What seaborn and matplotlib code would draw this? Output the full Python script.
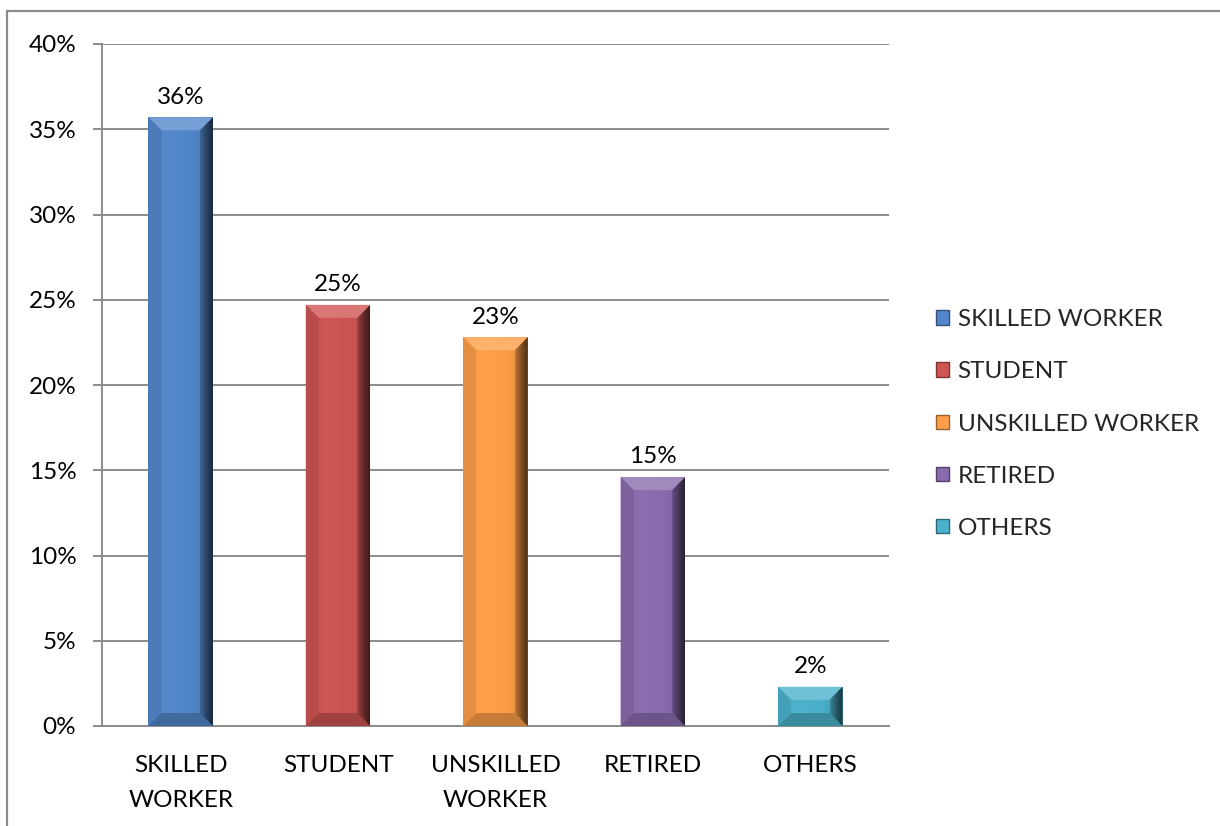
import numpy as np
import matplotlib
matplotlib.use("Agg")
import matplotlib.pyplot as plt
import matplotlib.colors as mcolors
from matplotlib.patches import Polygon, Patch, Rectangle
from matplotlib.ticker import FixedLocator, PercentFormatter
import seaborn as sns

# Occupation shares (percent)
categories = ["SKILLED WORKER", "STUDENT", "UNSKILLED WORKER", "RETIRED", "OTHERS"]
tick_labels = ["SKILLED\nWORKER", "STUDENT", "UNSKILLED\nWORKER", "RETIRED", "OTHERS"]
shares = [35.7, 24.7, 22.8, 14.6, 2.3]
bar_colors = ["#5287CB", "#CE5554", "#FE9E48", "#8A6CAE", "#4BB2CC"]

sns.set_theme(style="white")
plt.rcParams["font.family"] = ["Lato", "DejaVu Sans"]
FS = 17.5
GRID = "#8C8C8C"

fig = plt.figure(figsize=(12.2, 8.26), dpi=100)
ax = fig.add_axes([102 / 1220, 1 - 726 / 826, (889 - 102) / 1220, (726 - 44) / 826])

sns.barplot(x=categories, y=shares, hue=categories, palette=bar_colors,
            width=0.41, legend=False, ax=ax, zorder=3, linewidth=0, saturation=1)

ax.set_xlim(-0.5, len(categories) - 0.5)
ax.set_ylim(0, 40)
ax.yaxis.set_major_locator(FixedLocator(np.arange(0, 41, 5)))
ax.yaxis.set_major_formatter(PercentFormatter(decimals=0))
ax.grid(axis="y", color=GRID, linewidth=1.4, zorder=0)
ax.set_axisbelow(True)

for side in ["top", "right"]:
    ax.spines[side].set_visible(False)
for side in ["left", "bottom"]:
    ax.spines[side].set_color(GRID)
    ax.spines[side].set_linewidth(1.4)

ax.set_xticks(range(len(categories)))
ax.set_xticklabels(tick_labels, fontsize=FS, linespacing=1.83, color="black")
ax.tick_params(axis="x", which="major", length=0, pad=21)
ax.set_xticks(np.arange(-0.5, len(categories), 1.0), minor=True)
ax.tick_params(axis="x", which="minor", length=6, width=1.4, color=GRID, direction="out")
ax.tick_params(axis="y", length=6.5, width=1.4, color=GRID, direction="out",
               pad=12, labelsize=FS, labelcolor="black", left=True)
ax.set_xlabel("")
ax.set_ylabel("")

fig.canvas.draw()
to_data = ax.transData.inverted()


def shade(color, factor):
    r, g, b = mcolors.to_rgb(color)
    if factor >= 1:
        t = factor - 1
        return (r + (1 - r) * t, g + (1 - g) * t, b + (1 - b) * t)
    return (r * factor, g * factor, b * factor)


def gradient_fill(poly_pts, col, stops, factors, extent, z):
    """Horizontal shading of `col` clipped to a polygon (data coords)."""
    clip = Polygon(poly_pts, closed=True, transform=ax.transData)
    t = np.linspace(0, 1, 64)
    fac = np.interp(t, stops, factors)
    img = np.array([[shade(col, f) for f in fac]])
    im = ax.imshow(img, extent=extent, aspect="auto",
                   interpolation="bilinear", zorder=z)
    im.set_clip_path(clip)


# Bevelled look for each bar: shaded face plus four edge facets
bevel_px = 13
for patch, col, val in zip(ax.patches, bar_colors, shares):
    x0, y0 = patch.get_x(), patch.get_y()
    w, h = patch.get_width(), patch.get_height()
    (px0, py0) = ax.transData.transform((x0, y0))
    (px1, py1) = ax.transData.transform((x0 + w, y0 + h))
    b = min(bevel_px, (py1 - py0) / 3)

    def pts(lst):
        return to_data.transform(np.array(lst))

    outer = [(px0, py0), (px1, py0), (px1, py1), (px0, py1)]
    inner = [(px0 + b, py0 + b), (px1 - b, py0 + b), (px1 - b, py1 - b), (px0 + b, py1 - b)]

    # face
    gradient_fill(pts(outer), col, [0, 0.3, 0.7, 1], [0.95, 1.02, 0.98, 0.85],
                  (x0, x0 + w, y0, y0 + h), 3.5)

    # top, bottom and left facets
    facets = [
        ([outer[3], outer[2], inner[2], inner[3]], shade(col, 1.2)),
        ([outer[0], outer[1], inner[1], inner[0]], shade(col, 0.78)),
        ([outer[0], inner[0], inner[3], outer[3]], shade(col, 0.9)),
    ]
    for poly, fc in facets:
        ax.add_patch(Polygon(pts(poly), closed=True, facecolor=fc,
                             edgecolor="none", zorder=4))

    # right facet darkens toward the edge
    right = pts([outer[1], inner[1], inner[2], outer[2]])
    xr0 = to_data.transform((px1 - b, py0))[0]
    gradient_fill(right, col, [0, 0.5, 1], [0.75, 0.5, 0.3],
                  (xr0, x0 + w, y0, y0 + h), 4.2)

    ax.annotate(f"{val:.0f}%", (x0 + w / 2, y0 + h), xytext=(0, 7),
                textcoords="offset points", ha="center", va="bottom",
                fontsize=FS, color="black", zorder=5)

handles = [Patch(facecolor=c, edgecolor=shade(c, 0.6), linewidth=1.0) for c in bar_colors]
fig.legend(handles, categories, loc="center left",
           bbox_to_anchor=(926 / 1220, 1 - 424 / 826), frameon=False,
           fontsize=FS, handlelength=0.55, handleheight=0.55,
           handletextpad=0.35, labelspacing=1.28, borderaxespad=0)

# outer chart border
fig.add_artist(Rectangle((7 / 1220, -0.2), 2, 1 - 11 / 826 + 0.2, fill=False,
                         edgecolor="#8A8A8A", linewidth=1.6,
                         transform=fig.transFigure, clip_on=False))

fig.savefig("out.png", dpi=100, facecolor="white")
